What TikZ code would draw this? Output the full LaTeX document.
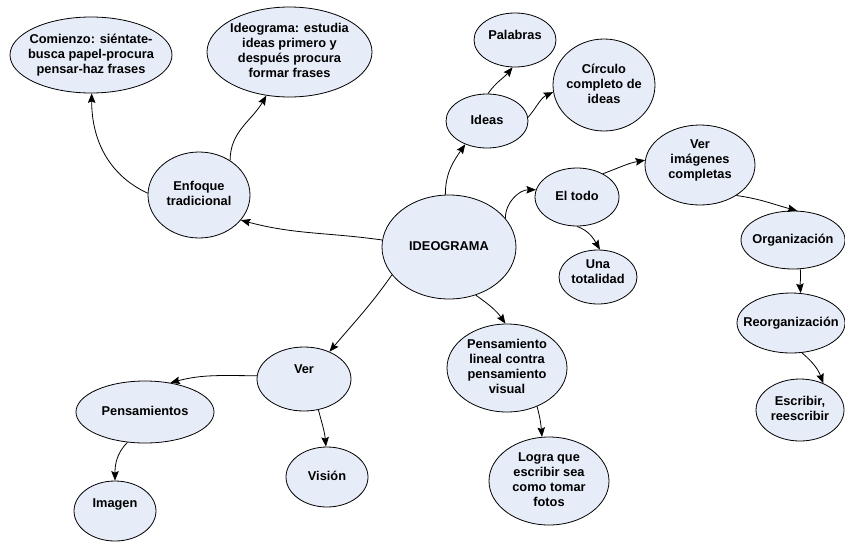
\documentclass[tikz,border=0pt]{standalone}
\usepackage{fontspec}
\setmainfont{Liberation Sans}
\usetikzlibrary{shapes.geometric,arrows.meta}
\definecolor{bubfill}{RGB}{230,236,248}
\newcommand\mt[2][0pt]{\raisebox{#1}[\height][\depth]{\begin{tabular}{@{}c@{}}#2\end{tabular}}}
\begin{document}
\begin{tikzpicture}[x=1pt,y=-1pt,
  bub/.style={ellipse, draw=black, line width=0.8pt, fill=bubfill, inner sep=-30pt,
    font=\bfseries\fontsize{12.8}{15}\selectfont},
  conn/.style={draw=black, line width=0.8pt, -{Stealth[length=9.5pt,width=7.5pt,inset=1.5pt]}}]
\fill[white] (0,0) rectangle (845,541);
\useasboundingbox (0,0) rectangle (845,541);

\node[bub, minimum width=162pt, minimum height=76pt] (com) at (91,55) {\mt{Comienzo: siéntate-\\busca papel-procura\\pensar-haz frases}};
\node[bub, minimum width=165pt, minimum height=90pt] (ideo) at (289.5,52) {\mt{Ideograma: estudia\\ideas primero y\\después procura\\formar frases}};
\node[bub, minimum width=102pt, minimum height=86pt] (enf) at (199,195) {\mt{Enfoque\\tradicional}};
\node[bub, minimum width=134pt, minimum height=104pt] (main) at (449,247) {\mt{IDEOGRAMA}};
\node[bub, minimum width=82pt, minimum height=54pt] (pal) at (515,40) {\mt[4pt]{Palabras}};
\node[bub, minimum width=102pt, minimum height=92pt] (circ) at (604,85) {\mt{Círculo\\completo de\\ideas}};
\node[bub, minimum width=82pt, minimum height=54pt] (ideas) at (487,121) {\mt{Ideas}};
\node[bub, minimum width=84pt, minimum height=58pt] (todo) at (577,197) {\mt{El todo}};
\node[bub, minimum width=110pt, minimum height=80pt] (verimg) at (700,165) {\mt[5pt]{Ver\\imágenes\\completas}};
\node[bub, minimum width=78pt, minimum height=54pt] (tot) at (598,277) {\mt[4pt]{Una\\totalidad}};
\node[bub, minimum width=104pt, minimum height=58pt] (org) at (793,240) {\mt{Organización}};
\node[bub, minimum width=108pt, minimum height=60pt] (reorg) at (791,323) {\mt{Reorganización}};
\node[bub, minimum width=88pt, minimum height=62pt] (esc) at (800,410) {\mt{Escribir,\\reescribir}};
\node[bub, minimum width=120pt, minimum height=88pt] (pl) at (507,368) {\mt{Pensamiento\\lineal contra\\pensamiento\\visual}};
\node[bub, minimum width=120pt, minimum height=88pt] (logra) at (549,481) {\mt{Logra que\\escribir sea\\como tomar\\fotos}};
\node[bub, minimum width=94pt, minimum height=64pt] (ver) at (304,379) {\mt[9pt]{Ver}};
\node[bub, minimum width=138pt, minimum height=62pt] (pens) at (145,412) {\mt{Pensamientos}};
\node[bub, minimum width=82pt, minimum height=60pt] (vis) at (327,477) {\mt{Visión}};
\node[bub, minimum width=82pt, minimum height=60pt] (img) at (115,511) {\mt[7pt]{Imagen}};

\draw[conn] (main.174) to[out=172,in=-15] (enf.-31);
\draw[conn] (enf.178) to[out=155,in=-90] (com.-89);
\draw[conn] (enf.48) to[out=90,in=-120] (ideo.-118);
\draw[conn] (main.94) to[out=90,in=-125] (ideas.-133);
\draw[conn] (ideas.88) to[out=55,in=-130] (pal.-95);
\draw[conn] (ideas.5) to[out=50,in=205] (circ.-172);
\draw[conn] (main.27) to[out=90,in=180] (todo.170);
\draw[conn] (todo.42) to[out=20,in=190] (verimg.175);
\draw[conn] (todo.-90) to[out=-20,in=120] (tot.86);
\draw[conn] (verimg.-40) to[out=-8,in=165] (org.82);
\draw[conn] (org.-76) to[out=-85,in=95] (reorg.72);
\draw[conn] (reorg.-70) to[out=-40,in=110] (esc.49);
\draw[conn] (main.-61) to[out=-35,in=125] (pl.92);
\draw[conn] (pl.-52) to[out=-75,in=95] (logra.99);
\draw[conn] (main.-154) to[out=-125,in=50] (ver.47);
\draw[conn] (ver.176) to[out=180,in=15] (pens.49);
\draw[conn] (ver.-65) to[out=-75,in=95] (vis.92);
\draw[conn] (pens.-120) to[out=-135,in=90] (img.90);
\end{tikzpicture}
\end{document}
